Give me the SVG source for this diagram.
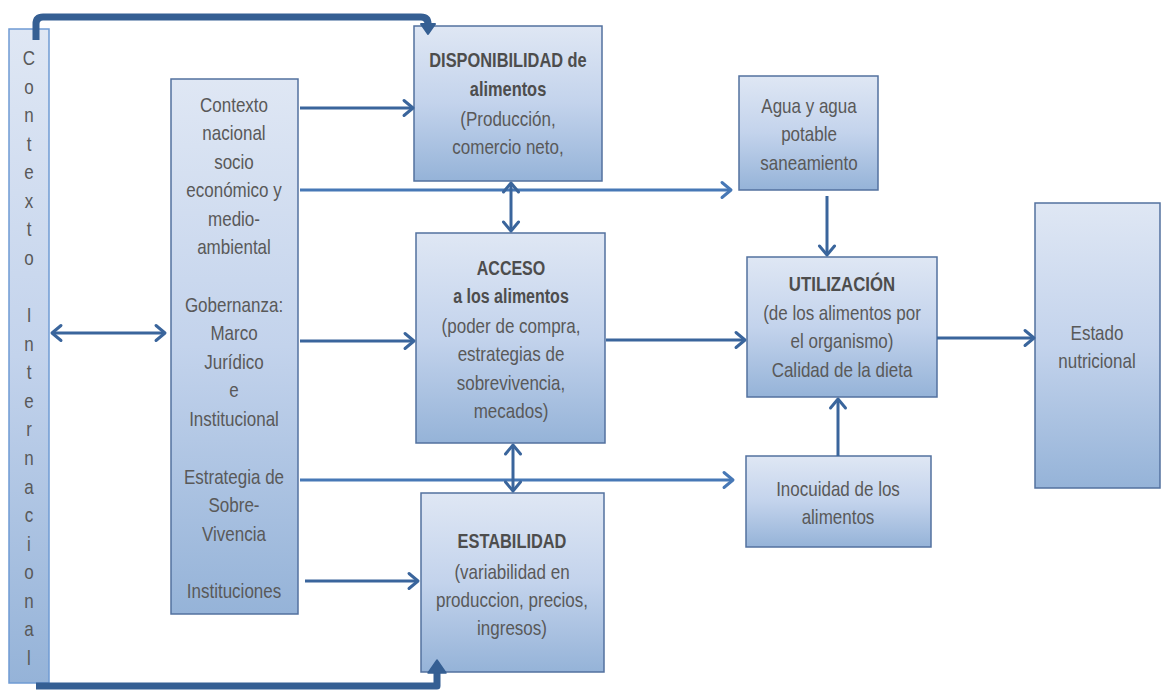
<svg xmlns="http://www.w3.org/2000/svg" width="1161" height="690" viewBox="0 0 1161 690">
<defs>
<linearGradient id="g" x1="0" y1="0" x2="0" y2="1">
<stop offset="0" stop-color="#dfe7f4"/>
<stop offset="0.5" stop-color="#c3d3ec"/>
<stop offset="1" stop-color="#95b3d8"/>
</linearGradient>
<marker id="ah" markerUnits="userSpaceOnUse" markerWidth="16" markerHeight="20" refX="12" refY="10" orient="auto-start-reverse" viewBox="0 0 16 20">
<path d="M3,2.5 L12,10 L3,17.5" fill="none" stroke="#3a659c" stroke-width="3" stroke-linecap="round" stroke-linejoin="round"/>
</marker>
<marker id="ahl" markerUnits="userSpaceOnUse" markerWidth="16" markerHeight="20" refX="12" refY="10" orient="auto-start-reverse" viewBox="0 0 16 20">
<path d="M3,2.5 L12,10 L3,17.5" fill="none" stroke="#4778b6" stroke-width="3" stroke-linecap="round" stroke-linejoin="round"/>
</marker>
</defs>
<style>
.box{fill:url(#g);stroke:#53719f;stroke-width:1.5}
.boxl{fill:url(#g);stroke:#6f9bd3;stroke-width:1.5}
.t{font-family:"Liberation Sans",Arial,sans-serif;font-size:20px;fill:#595959;text-anchor:middle}
.b{font-family:"Liberation Sans",Arial,sans-serif;font-size:20px;font-weight:bold;fill:#4d4d4d;text-anchor:middle}
.c{fill:none;stroke:#3a659c;stroke-width:3;marker-end:url(#ah)}
.cl{fill:none;stroke:#4778b6;stroke-width:3;marker-end:url(#ahl)}
.k{fill:none;stroke:#355f93;stroke-width:7;stroke-linejoin:round}
</style>
<rect width="1161" height="690" fill="#ffffff"/>

<g id="n-internacional">
<rect class="boxl" x="9" y="29" width="40" height="654"/>
<g transform="translate(29,0) scale(0.85,1)">
<text class="t" x="0" y="65">C</text>
<text class="t" x="0" y="93.6">o</text>
<text class="t" x="0" y="122.1">n</text>
<text class="t" x="0" y="150.7">t</text>
<text class="t" x="0" y="179.3">e</text>
<text class="t" x="0" y="207.9">x</text>
<text class="t" x="0" y="236.4">t</text>
<text class="t" x="0" y="265">o</text>
<text class="t" x="0" y="322.1">I</text>
<text class="t" x="0" y="350.7">n</text>
<text class="t" x="0" y="379.3">t</text>
<text class="t" x="0" y="407.9">e</text>
<text class="t" x="0" y="436.4">r</text>
<text class="t" x="0" y="465">n</text>
<text class="t" x="0" y="493.6">a</text>
<text class="t" x="0" y="522.1">c</text>
<text class="t" x="0" y="550.7">i</text>
<text class="t" x="0" y="579.3">o</text>
<text class="t" x="0" y="607.9">n</text>
<text class="t" x="0" y="636.4">a</text>
<text class="t" x="0" y="665">l</text>
</g>
</g>

<g id="n-nacional">
<rect class="box" x="171" y="79" width="127" height="535"/>
<g transform="translate(234,0) scale(0.85,1)">
<text class="t" x="0" y="112">Contexto</text>
<text class="t" x="0" y="140.5">nacional</text>
<text class="t" x="0" y="169">socio</text>
<text class="t" x="0" y="197.5">económico y</text>
<text class="t" x="0" y="226">medio-</text>
<text class="t" x="0" y="254.5">ambiental</text>
<text class="t" x="0" y="312">Gobernanza:</text>
<text class="t" x="0" y="340.5">Marco</text>
<text class="t" x="0" y="369">Jurídico</text>
<text class="t" x="0" y="397.5">e</text>
<text class="t" x="0" y="426">Institucional</text>
<text class="t" x="0" y="484">Estrategia de</text>
<text class="t" x="0" y="512.5">Sobre-</text>
<text class="t" x="0" y="541">Vivencia</text>
<text class="t" x="0" y="598">Instituciones</text>
</g>
</g>

<g id="n-disponibilidad">
<rect class="box" x="414" y="26" width="188" height="155"/>
<g transform="translate(508,0) scale(0.82,1)">
<text class="b" x="0" y="67">DISPONIBILIDAD de</text>
<text class="b" x="0" y="96">alimentos</text>
</g>
<g transform="translate(508,0) scale(0.85,1)">
<text class="t" x="0" y="126">(Producción,</text>
<text class="t" x="0" y="154">comercio neto,</text>
</g>
</g>

<g id="n-acceso">
<rect class="box" x="416" y="233" width="189" height="210"/>
<g transform="translate(511,0) scale(0.8,1)">
<text class="b" x="0" y="275">ACCESO</text>
<text class="b" x="0" y="303">a los alimentos</text>
</g>
<g transform="translate(511,0) scale(0.85,1)">
<text class="t" x="0" y="333">(poder de compra,</text>
<text class="t" x="0" y="361">estrategias de</text>
<text class="t" x="0" y="390">sobrevivencia,</text>
<text class="t" x="0" y="418">mecados)</text>
</g>
</g>

<g id="n-estabilidad">
<rect class="box" x="421" y="493" width="183" height="179"/>
<g transform="translate(512,0) scale(0.82,1)">
<text class="b" x="0" y="548">ESTABILIDAD</text>
</g>
<g transform="translate(512,0) scale(0.85,1)">
<text class="t" x="0" y="579">(variabilidad en</text>
<text class="t" x="0" y="607">produccion, precios,</text>
<text class="t" x="0" y="635">ingresos)</text>
</g>
</g>

<g id="n-agua">
<rect class="box" x="739" y="76" width="139" height="114"/>
<g transform="translate(809,0) scale(0.85,1)">
<text class="t" x="0" y="113">Agua y agua</text>
<text class="t" x="0" y="141">potable</text>
<text class="t" x="0" y="170">saneamiento</text>
</g>
</g>

<g id="n-utilizacion">
<rect class="box" x="747" y="257" width="190" height="140"/>
<g transform="translate(842,0) scale(0.84,1)">
<text class="b" x="0" y="291">UTILIZACIÓN</text>
</g>
<g transform="translate(842,0) scale(0.85,1)">
<text class="t" x="0" y="320">(de los alimentos por</text>
<text class="t" x="0" y="348">el organismo)</text>
<text class="t" x="0" y="377">Calidad de la dieta</text>
</g>
</g>

<g id="n-inocuidad">
<rect class="box" x="746" y="456" width="185" height="91"/>
<g transform="translate(838,0) scale(0.85,1)">
<text class="t" x="0" y="496">Inocuidad de los</text>
<text class="t" x="0" y="524">alimentos</text>
</g>
</g>

<g id="n-estado">
<rect class="box" x="1035" y="203" width="125" height="285"/>
<g transform="translate(1097,0) scale(0.85,1)">
<text class="t" x="0" y="340">Estado</text>
<text class="t" x="0" y="368">nutricional</text>
</g>
</g>

<g id="connectors">
<path class="k" d="M36,40 V24 Q36,17 43,17 H421 Q428,17 428,24 V26"/>
<path d="M421,24 L435,24 L428,34 Z" fill="#355f93" stroke="#355f93" stroke-width="2" stroke-linejoin="round"/>
<path class="k" d="M36,686 H437 V671"/>
<path d="M428,673 L446,673 L437,660 Z" fill="#355f93" stroke="#355f93" stroke-width="1.5" stroke-linejoin="round"/>
<path class="c" d="M52,333 H165" marker-start="url(#ah)"/>
<path class="c" d="M300,108 H413"/>
<path class="cl" d="M300,190 H731"/>
<path class="c" d="M300,341 H414"/>
<path class="cl" d="M300,480 H733"/>
<path class="c" d="M305,581 H418"/>
<path class="c" d="M511,183 V231" marker-start="url(#ah)"/>
<path class="c" d="M513,445 V491" marker-start="url(#ah)"/>
<path class="c" d="M606,340 H745"/>
<path class="c" d="M827,196 V255"/>
<path class="c" d="M838,456 V399"/>
<path class="c" d="M937,338 H1034"/>
</g>
</svg>
